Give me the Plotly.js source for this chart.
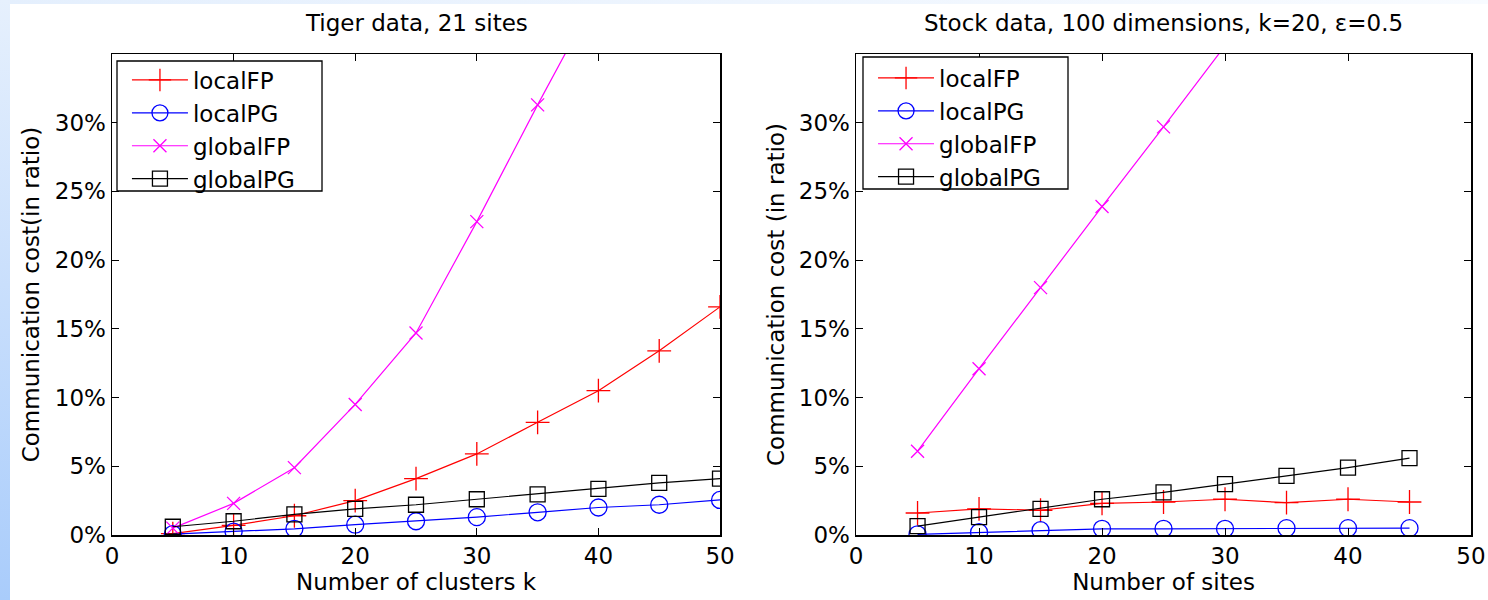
<!DOCTYPE html>
<html>
<head>
<meta charset="utf-8">
<script src="https://cdn.plot.ly/plotly-3.0.1.min.js"></script>
<style>
  html, body { margin: 0; padding: 0; background: #ffffff; }
  #wrap { position: relative; width: 1488px; height: 600px; overflow: hidden; background: #ffffff; }
  #topstrip { position: absolute; left: 0; top: 0; width: 1488px; height: 4px;
    background: linear-gradient(to right, #e4effd, #f8fbff); }
  #leftstrip { position: absolute; left: 0; top: 0; width: 10px; height: 600px;
    background: linear-gradient(to bottom, #e6f0fd, #a9ccfb); }
  #chart { position: absolute; left: 0; top: 0; width: 1488px; height: 600px; }
</style>
</head>
<body>
<div id="wrap">
  <div id="topstrip"></div>
  <div id="leftstrip"></div>
  <div id="chart"></div>
</div>
<script>
// ---- data (values in percent) ----
const seriesNames = ["localFP", "localPG", "globalFP", "globalPG"];

const tigerClusters = [5, 10, 15, 20, 25, 30, 35, 40, 45, 50];
const tigerLocalFP  = [0.1, 0.7, 1.4, 2.5, 4.1, 5.9, 8.2, 10.5, 13.4, 16.6];
const tigerLocalPG  = [0.07, 0.25, 0.45, 0.75, 1.0, 1.3, 1.65, 2.0, 2.2, 2.55];
const tigerGlobalFPx = [5, 10, 15, 20, 25, 30, 35, 40];
const tigerGlobalFP = [0.5, 2.3, 4.9, 9.5, 14.7, 22.8, 31.3, 39.5];
const tigerGlobalPG = [0.6, 1.0, 1.5, 1.9, 2.2, 2.6, 2.95, 3.35, 3.8, 4.1];

const stockSites    = [5, 10, 15, 20, 25, 30, 35, 40, 45];
const stockLocalFP  = [1.6, 1.9, 1.8, 2.3, 2.4, 2.6, 2.35, 2.6, 2.4];
const stockLocalPG  = [0.05, 0.2, 0.35, 0.45, 0.45, 0.45, 0.5, 0.5, 0.5];
const stockGlobalFPx = [5, 10, 15, 20, 25, 30];
const stockGlobalFP = [6.1, 12.1, 18.0, 23.9, 29.7, 35.6];
const stockGlobalPG = [0.65, 1.3, 1.9, 2.6, 3.1, 3.7, 4.3, 4.9, 5.6];

const xTickVals = [0, 10, 20, 30, 40, 50];
const yTickVals = [0, 5, 10, 15, 20, 25, 30];
const yTickText = ["0%", "5%", "10%", "15%", "20%", "25%", "30%"];

// ---- styles ----
const FONT = "DejaVu Sans, Liberation Sans, Arial, sans-serif";
const styles = [
  {color: "#ff0000", symbol: "cross-thin-open", size: 17},
  {color: "#0000ff", symbol: "circle-open", size: 17},
  {color: "#ff00ff", symbol: "x-thin-open", size: 13},
  {color: "#000000", symbol: "square-open", size: 15}
];

function mk(i, x, y, xa, ya, leg) {
  const s = styles[i];
  return {
    type: "scatter", mode: "lines+markers",
    x: x, y: y, xaxis: xa, yaxis: ya, legend: leg,
    name: seriesNames[i],
    line: {color: s.color, width: 1.2},
    marker: {symbol: s.symbol, size: s.size, color: s.color, line: {color: s.color, width: 1.3}}
  };
}

const data = [
  mk(0, tigerClusters, tigerLocalFP, "x", "y", "legend"),
  mk(1, tigerClusters, tigerLocalPG, "x", "y", "legend"),
  mk(2, tigerGlobalFPx, tigerGlobalFP, "x", "y", "legend"),
  mk(3, tigerClusters, tigerGlobalPG, "x", "y", "legend"),
  mk(0, stockSites, stockLocalFP, "x2", "y2", "legend2"),
  mk(1, stockSites, stockLocalPG, "x2", "y2", "legend2"),
  mk(2, stockGlobalFPx, stockGlobalFP, "x2", "y2", "legend2"),
  mk(3, stockSites, stockGlobalPG, "x2", "y2", "legend2")
];

const axisFont = {family: FONT, size: 23, color: "#000"};
function xAxis(domain, anchor, title) {
  return {
    domain: domain, anchor: anchor, range: [0, 50],
    tickvals: xTickVals, ticks: "inside", ticklen: 7, tickwidth: 1, tickcolor: "#000",
    showline: true, linecolor: "#000", linewidth: 1.5, mirror: "ticks",
    showgrid: false, zeroline: false, tickfont: axisFont,
    title: {text: title, font: axisFont, standoff: 4}
  };
}
function yAxis(anchor, title) {
  return {
    anchor: anchor, domain: [0, 1], range: [0, 35],
    tickvals: yTickVals, ticktext: yTickText, ticks: "inside", ticklen: 7, tickwidth: 1, tickcolor: "#000",
    showline: true, linecolor: "#000", linewidth: 1.5, mirror: "ticks",
    showgrid: false, zeroline: false, tickfont: axisFont,
    title: {text: title, font: axisFont, standoff: 8}
  };
}

const legFont = {family: FONT, size: 23, color: "#000"};
const legBase = {xanchor: "left", yanchor: "top", bgcolor: "rgba(0,0,0,0)", borderwidth: 0,
  font: legFont, itemwidth: 56, tracegroupgap: 0};
const layout = {
  width: 1488, height: 600,
  margin: {l: 112, r: 17, t: 54, b: 65},
  paper_bgcolor: "rgba(0,0,0,0)", plot_bgcolor: "#ffffff",
  font: {family: FONT, color: "#000"},
  showlegend: true,
  xaxis: xAxis([0, 0.4474], "y", "Number of clusters k"),
  yaxis: yAxis("x", "Communication cost(in ratio)"),
  xaxis2: xAxis([0.5475, 1], "y2", "Number of sites"),
  yaxis2: yAxis("x2", "Communication cost (in ratio)"),
  legend: Object.assign({x: 0.0110, y: 0.9906}, legBase),
  legend2: Object.assign({x: 0.5600, y: 0.9948}, legBase),
  shapes: [
    {type: "rect", xref: "paper", yref: "paper", x0: 0.00368, x1: 0.15453, y0: 0.7152, y1: 0.98545,
     layer: "above", fillcolor: "#ffffff", line: {color: "#000", width: 1.3}},
    {type: "rect", xref: "paper", yref: "paper", x0: 0.55261, x1: 0.70346, y0: 0.71933, y1: 0.99376,
     layer: "above", fillcolor: "#ffffff", line: {color: "#000", width: 1.3}}
  ],
  annotations: [
    {text: "Tiger data, 21 sites", xref: "paper", yref: "paper", x: 0.2237, y: 1, yshift: 31,
     xanchor: "center", yanchor: "middle", showarrow: false, font: {family: FONT, size: 23, color: "#000"}},
    {text: "Stock data, 100 dimensions, k=20, \u03b5=0.5", xref: "paper", yref: "paper", x: 0.7737, y: 1, yshift: 31,
     xanchor: "center", yanchor: "middle", showarrow: false, font: {family: FONT, size: 23, color: "#000"}}
  ]
};

Plotly.newPlot("chart", data, layout, {displayModeBar: false, staticPlot: true});
</script>
</body>
</html>
